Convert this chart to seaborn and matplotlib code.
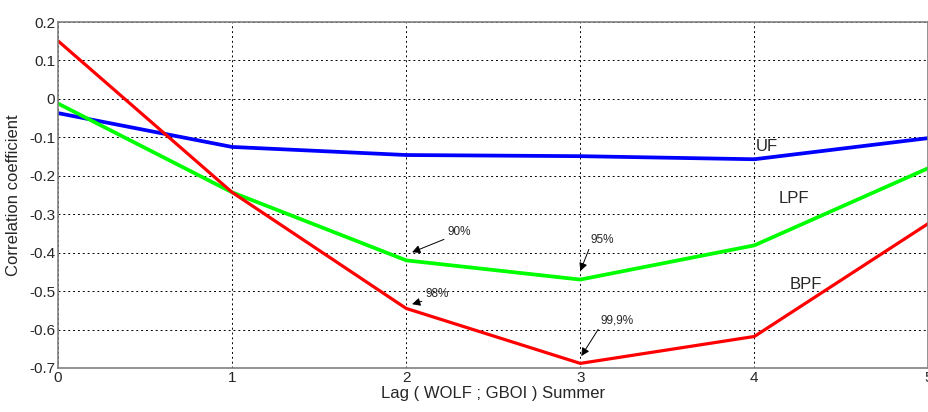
import matplotlib
matplotlib.use('Agg')
import matplotlib.pyplot as plt
import seaborn as sns
import pandas as pd

# data
lags = [0, 1, 2, 3, 4, 5]
uf = [-0.037, -0.125, -0.146, -0.149, -0.157, -0.102]
lpf = [-0.012, -0.243, -0.420, -0.470, -0.381, -0.180]
bpf = [0.151, -0.243, -0.545, -0.688, -0.618, -0.324]

df = pd.DataFrame({'lag': lags * 3,
                   'r': uf + lpf + bpf,
                   'filter': ['UF'] * 6 + ['LPF'] * 6 + ['BPF'] * 6})

sns.set_style('white')
plt.rcParams['font.family'] = ['Liberation Sans', 'DejaVu Sans']

fig = plt.figure(figsize=(9.29, 4.12), dpi=100)
ax = fig.add_axes([0.0624, 0.1068, 0.937, 0.8398])

sns.lineplot(data=df, x='lag', y='r', hue='filter', hue_order=['UF', 'LPF', 'BPF'],
             palette=['#0000ff', '#00ff00', '#ff0000'], linewidth=2.7, legend=False, ax=ax)
# red line a bit thinner
ax.lines[2].set_linewidth(2.3)

ax.set_xlim(0, 5)
ax.set_ylim(-0.7, 0.2)
ax.set_xticks(lags)
ax.set_yticks([0.2, 0.1, 0, -0.1, -0.2, -0.3, -0.4, -0.5, -0.6, -0.7])
ax.set_yticklabels(['0.2', '0.1', '0', '-0.1', '-0.2', '-0.3', '-0.4', '-0.5', '-0.6', '-0.7'])
ax.grid(True, color='black', linestyle=(0, (2, 3)), linewidth=0.7)
for s in ax.spines.values():
    s.set_color('#808080')
    s.set_linewidth(1.2)
ax.tick_params(labelsize=11, length=0, pad=2)
ax.set_xlabel('Lag ( WOLF ; GBOI ) Summer', fontsize=12, labelpad=1)
ax.set_ylabel('Correlation coefficient', fontsize=12, labelpad=6)

# curve labels
ax.text(4.01, -0.125, 'UF', fontsize=12, va='center')
ax.text(4.14, -0.258, 'LPF', fontsize=12, va='center')
ax.text(4.2, -0.482, 'BPF', fontsize=12, va='center')

# significance annotations: text, arrow head, text lower-left corner
ann = [('90%', 2.034, -0.399, 2.236, -0.362),
       ('95%', 3.0, -0.448, 3.057, -0.383),
       ('98%', 2.034, -0.534, 2.109, -0.524),
       ('99,9%', 3.006, -0.669, 3.115, -0.591)]
for txt, x, y, tx, ty in ann:
    ax.annotate(txt, xy=(x, y), xytext=(tx, ty), fontsize=8.5, ha='left', va='bottom',
                arrowprops=dict(arrowstyle='-|>', color='black', lw=0.7, mutation_scale=12,
                                shrinkA=0, shrinkB=0, relpos=(0, 0)))

fig.savefig('out.png', dpi=100)
